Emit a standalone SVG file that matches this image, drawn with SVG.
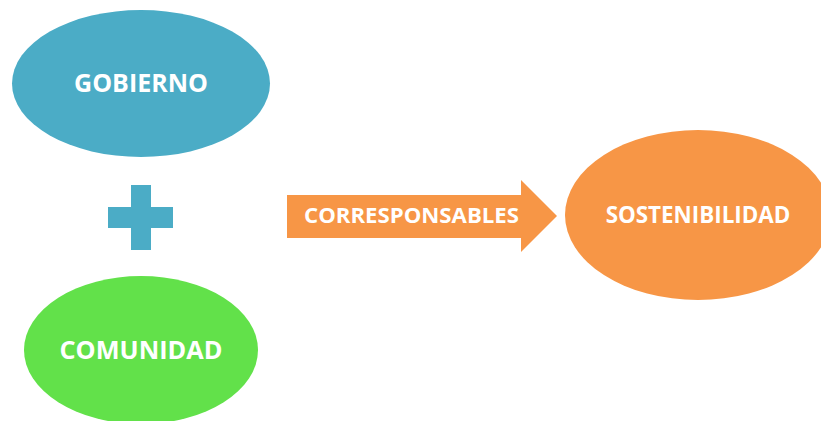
<svg xmlns="http://www.w3.org/2000/svg" width="821" height="421" viewBox="0 0 821 421">
<style>
.lbl{font-family:"Open Sans","Noto Sans","Liberation Sans",sans-serif;font-weight:bold;fill:#ffffff;text-anchor:middle}
</style>
<rect width="821" height="421" fill="#ffffff"/>
<g id="gobierno">
<ellipse cx="141" cy="83.5" rx="129" ry="73.5" fill="#4BACC6"/>
<text class="lbl" x="141" y="92" font-size="25">GOBIERNO</text>
</g>
<g id="plus">
<rect x="131" y="185" width="20" height="65" fill="#4BACC6"/>
<rect x="108" y="207" width="65" height="21" fill="#4BACC6"/>
</g>
<g id="comunidad">
<ellipse cx="141" cy="350" rx="117" ry="74" fill="#62E14A"/>
<text class="lbl" x="141" y="359" font-size="25.3">COMUNIDAD</text>
</g>
<g id="connectors">
<g id="arrow">
<polygon points="287,195 521,195 521,180 557,216 521,252 521,238 287,238" fill="#F79646"/>
<text class="lbl" x="411.5" y="223" font-size="22.2">CORRESPONSABLES</text>
</g>
</g>
<g id="sostenibilidad">
<ellipse cx="698" cy="215" rx="133" ry="85" fill="#F79646"/>
<text class="lbl" x="698" y="222.5" font-size="22.4">SOSTENIBILIDAD</text>
</g>
</svg>
